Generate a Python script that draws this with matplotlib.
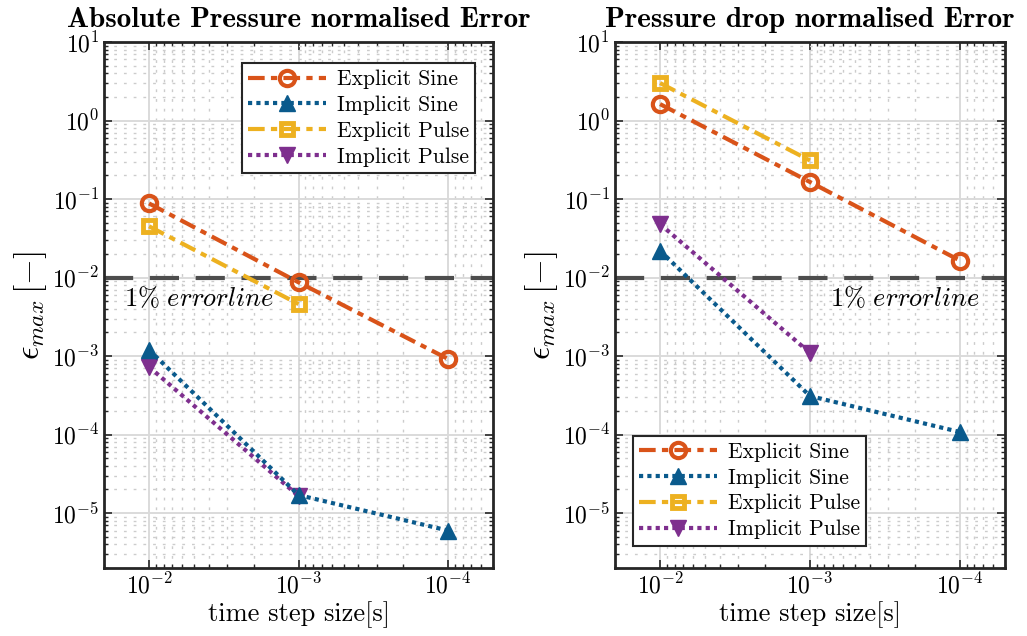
import matplotlib
matplotlib.use("Agg")
import matplotlib.pyplot as plt
from matplotlib.ticker import LogLocator, NullFormatter

plt.rcParams['font.family'] = 'serif'
plt.rcParams['font.serif'] = ['cmr10']
plt.rcParams['mathtext.fontset'] = 'cm'
plt.rcParams['axes.formatter.use_mathtext'] = True

# time step sizes [s]
dt = [1e-2, 1e-3, 1e-4]

# absolute pressure error
abs_exp_sine = [0.088, 0.0087, 9.2e-4]
abs_imp_sine = [1.2e-3, 1.7e-5, 6.0e-6]
abs_exp_pulse = [0.045, 0.0046]
abs_imp_pulse = [7.3e-4, 1.65e-5]

# pressure drop error
dp_exp_sine = [1.62, 0.165, 0.0165]
dp_imp_sine = [0.022, 3.1e-4, 1.08e-4]
dp_exp_pulse = [3.0, 0.31]
dp_imp_pulse = [0.048, 1.1e-3]

labels = ['Explicit Sine', 'Implicit Sine', 'Explicit Pulse', 'Implicit Pulse']
titles = ['Absolute Pressure normalised Error', 'Pressure drop normalised Error']

c_orange = '#D95319'
c_blue = '#0a5a8c'
c_yellow = '#EDB120'
c_purple = '#7E2F8E'

fig = plt.figure(figsize=(10.27, 6.36), dpi=100)
ax1 = fig.add_axes([0.1013, 0.1069, 0.3788, 0.827])
ax2 = fig.add_axes([0.5988, 0.1069, 0.3797, 0.827])


def draw(ax, es, isn, ep, ip, title, legloc, legpos, txt_x):
    ax.set_xscale('log')
    ax.set_yscale('log')
    ax.axhline(0.01, color='#4d4d4d', lw=3, dashes=(7, 4), zorder=2)
    ax.text(txt_x, 0.0055, r'$1\%\ errorline$', fontsize=19, ha='left', va='center', zorder=6)
    ax.plot(dt[:len(es)], es, color=c_orange, lw=3, ls=(0, (4, 1.5, 1.5, 1.5)),
            marker='o', ms=11, mew=3, mfc='none', label=labels[0], zorder=5)
    ax.plot(dt[:len(isn)], isn, color=c_blue, lw=3, ls=(0, (1, 1)),
            marker='^', ms=12, mew=1, mfc=c_blue, label=labels[1], zorder=5)
    ax.plot(dt[:len(ep)], ep, color=c_yellow, lw=3, ls=(0, (4, 1.5, 1.5, 1.5)),
            marker='s', ms=9, mew=3.5, mfc='none', label=labels[2], zorder=4)
    ax.plot(dt[:len(ip)], ip, color=c_purple, lw=3, ls=(0, (1, 1)),
            marker='v', ms=12, mew=1, mfc=c_purple, label=labels[3], zorder=4)

    ax.set_xlim(0.02, 5e-5)
    ax.set_ylim(2e-6, 10)
    ax.xaxis.set_major_locator(LogLocator(base=10, numticks=10))
    ax.xaxis.set_minor_locator(LogLocator(base=10, subs=range(2, 10), numticks=20))
    ax.yaxis.set_major_locator(LogLocator(base=10, numticks=20))
    ax.yaxis.set_minor_locator(LogLocator(base=10, subs=range(2, 10), numticks=20))
    ax.xaxis.set_minor_formatter(NullFormatter())
    ax.yaxis.set_minor_formatter(NullFormatter())

    ax.grid(True, which='major', color='#dadada', lw=1.4, ls='-', zorder=0)
    ax.grid(True, which='minor', color='#cccccc', lw=1.0, ls=(0, (2, 5)), zorder=0)
    ax.set_axisbelow(True)
    ax.tick_params(which='both', direction='in', top=True, right=True,
                   color='#262626', labelsize=17)
    ax.tick_params(which='major', length=6, width=1.2)
    ax.tick_params(which='minor', length=3, width=1)
    for sp in ax.spines.values():
        sp.set_linewidth(2)
        sp.set_color('#262626')

    ax.set_xlabel('time step size[s]', fontsize=19, labelpad=2)
    ax.set_ylabel(r'$\epsilon_{max}\,[-]$', fontsize=24, labelpad=2)
    ax.set_title(title, fontfamily='cmb10', fontsize=21, pad=11)

    leg = ax.legend(loc=legloc, bbox_to_anchor=legpos, fontsize=15.5,
                    handlelength=3.6, framealpha=1, fancybox=False,
                    edgecolor='#262626', borderpad=0.3, borderaxespad=0,
                    labelspacing=0.3, handletextpad=0.5)
    leg.get_frame().set_linewidth(1.5)


draw(ax1, abs_exp_sine, abs_imp_sine, abs_exp_pulse, abs_imp_pulse, titles[0],
     'upper right', (0.954, 0.960), 0.0148)
draw(ax2, dp_exp_sine, dp_imp_sine, dp_exp_pulse, dp_imp_pulse, titles[1],
     'lower left', (0.046, 0.042), 7.3e-4)

fig.savefig('out.png', dpi=100)
